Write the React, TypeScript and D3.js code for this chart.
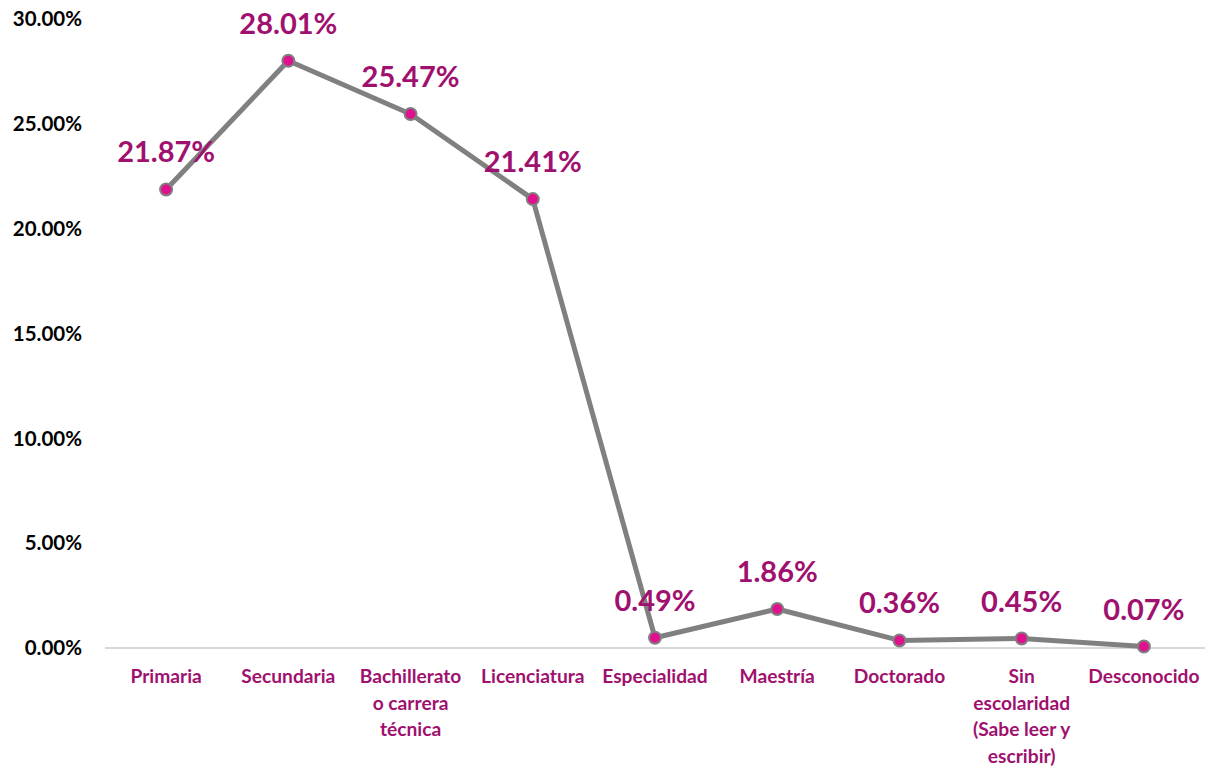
import React from "react";
import * as d3 from "d3";

const categories: string[][] = [
  ["Primaria"],
  ["Secundaria"],
  ["Bachillerato", "o carrera", "técnica"],
  ["Licenciatura"],
  ["Especialidad"],
  ["Maestría"],
  ["Doctorado"],
  ["Sin", "escolaridad", "(Sabe leer y", "escribir)"],
  ["Desconocido"],
];
const values: number[] = [21.87, 28.01, 25.47, 21.41, 0.49, 1.86, 0.36, 0.45, 0.07];
const yTicks: number[] = [0, 5, 10, 15, 20, 25, 30];

const W = 1212;
const H = 766;
const FONT = "Lato, 'Open Sans', 'DejaVu Sans', sans-serif";

export default function App() {
  const x = d3
    .scaleBand<number>()
    .domain(values.map((_, i) => i))
    .range([105, 1205]);
  const y = d3.scaleLinear().domain([0, 30]).range([648, 19]);
  const cx = (i: number) => (x(i) as number) + x.bandwidth() / 2;
  const line = d3
    .line<number>()
    .x((_, i) => cx(i))
    .y((d) => y(d));

  return (
    <svg width={W} height={H} style={{ position: "absolute", left: 0, top: 0, background: "#fff" }}>
      <line x1={105} x2={1205} y1={y(0)} y2={y(0)} stroke="#d9d9d9" strokeWidth={2} />
      {yTicks.map((t) => (
        <text
          key={t}
          x={82}
          y={y(t)}
          dy="0.35em"
          textAnchor="end"
          fontFamily={FONT}
          fontWeight="bold"
          fontSize={20.5}
          fill="#000"
        >
          {t.toFixed(2)}%
        </text>
      ))}
      {categories.map((lines, i) => (
        <text
          key={i}
          x={cx(i)}
          textAnchor="middle"
          fontFamily={FONT}
          fontWeight="bold"
          fontSize={19.2}
          fill="#A0106E"
        >
          {lines.map((l, j) => (
            <tspan key={j} x={cx(i)} y={683 + j * 26.5}>
              {l}
            </tspan>
          ))}
        </text>
      ))}
      <path d={line(values) || ""} fill="none" stroke="#808080" strokeWidth={5} strokeLinejoin="round" />
      {values.map((v, i) => (
        <circle key={i} cx={cx(i)} cy={y(v)} r={6} fill="#E0118C" stroke="#808080" strokeWidth={2} />
      ))}
      {values.map((v, i) => (
        <text
          key={i}
          x={cx(i)}
          y={y(v) - 27}
          textAnchor="middle"
          fontFamily={FONT}
          fontWeight="bold"
          fontSize={29}
          fill="#A0106E"
        >
          {v.toFixed(2)}%
        </text>
      ))}
    </svg>
  );
}
